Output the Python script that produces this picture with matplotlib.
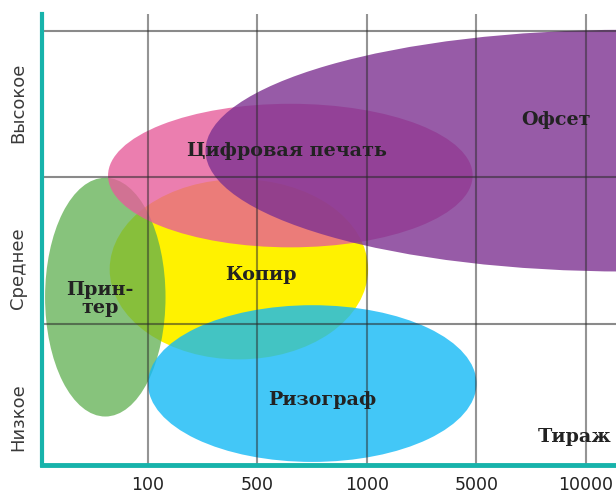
import matplotlib.pyplot as plt
from matplotlib.patches import Ellipse

# tirazh categories along x, quality levels along y
runs = ["100", "500", "1000", "5000", "10000"]
levels = ["Низкое", "Среднее", "Высокое"]

# each technology is an ellipse: centre and extent in (run index, quality level) units
techs = ["Копир", "Принтер", "Цифровая печать", "Офсет", "Ризограф"]
x_center = [1.83, 0.61, 2.30, 5.36, 2.50]
y_center = [1.37, 1.18, 2.01, 2.18, 0.59]
x_span = [2.36, 1.10, 3.33, 7.67, 3.00]
y_span = [1.23, 1.63, 0.98, 1.65, 1.07]

labels = ["Копир", "Прин-\nтер", "Цифровая печать", "Офсет", "Ризограф"]
label_x = [2.03, 0.56, 2.27, 4.73, 2.59]
label_y = [1.33, 1.17, 2.18, 2.39, 0.48]

colors = ["#fff200", "#5faf50", "#e65c9a", "#7d3291", "#14b9f5"]
alphas = [1.0, 0.75, 0.79, 0.80, 0.80]

teal = "#17b3ab"

fig = plt.figure(figsize=(6.16, 4.95), dpi=100)
ax = fig.add_axes([42 / 616, 30 / 495, 574 / 616, 451 / 495])
ax.set_xlim(0.032, 5.274)
ax.set_ylim(0.034, 3.113)

for i in range(len(techs)):
    e = Ellipse((x_center[i], y_center[i]), x_span[i], y_span[i],
                facecolor=colors[i], alpha=alphas[i], edgecolor="none", zorder=2 + i)
    ax.add_patch(e)

# grid drawn over the ellipses
for k in range(1, len(runs) + 1):
    ax.axvline(k, color="#2a2a2a", alpha=0.5, lw=1.5, zorder=10)
for k in range(1, len(levels) + 1):
    ax.axhline(k, color="#2a2a2a", alpha=0.55, lw=1.5, zorder=10)

for i in range(len(labels)):
    ax.text(label_x[i], label_y[i], labels[i], ha="center", va="center",
            fontsize=13.8, fontweight="bold", family="DejaVu Serif",
            color="#222222", linespacing=1.0, zorder=12)
ax.text(4.90, 0.225, "Тираж", ha="center", va="center", fontsize=13.8,
        fontweight="bold", family="DejaVu Serif", color="#222222", zorder=12)

ax.set_xticks(range(1, len(runs) + 1))
ax.set_xticklabels(runs, fontsize=12.5, color="#222222")
ax.tick_params(axis="x", length=0, pad=8)
ax.set_yticks([])

# quality level names along the left edge
for k, name in enumerate(levels):
    fig.text(18 / 616, 1 - [417, 268, 103][k] / 495, name, rotation=90,
             ha="center", va="center", fontsize=13, color="#3a3a3a")

for side in ["top", "right"]:
    ax.spines[side].set_visible(False)
ax.spines["left"].set_color(teal)
ax.spines["left"].set_linewidth(3)
ax.spines["bottom"].set_color(teal)
ax.spines["bottom"].set_linewidth(3.5)
ax.spines["left"].set_zorder(11)
ax.spines["bottom"].set_zorder(11)

fig.savefig("out.png", dpi=100)
